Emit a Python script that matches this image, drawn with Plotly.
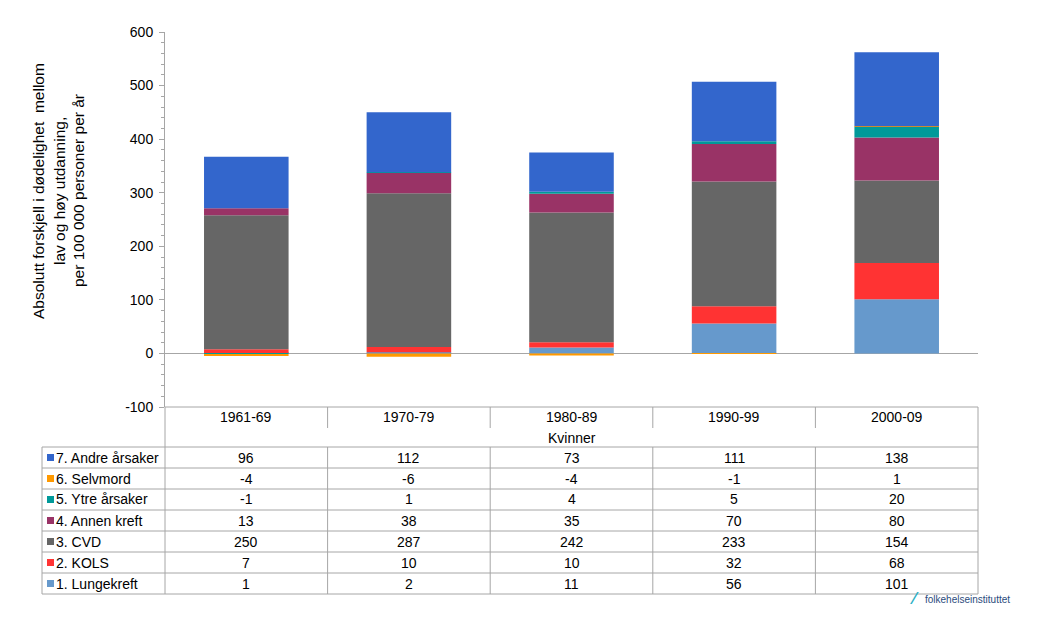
import plotly.graph_objects as go

# ---------------- data ----------------
periods = ["1961-69", "1970-79", "1980-89", "1990-99", "2000-09"]
group_label = "Kvinner"
lungekreft = [1, 2, 11, 56, 101]
kols = [7, 10, 10, 32, 68]
cvd = [250, 287, 242, 233, 154]
annen_kreft = [13, 38, 35, 70, 80]
ytre_arsaker = [-1, 1, 4, 5, 20]
selvmord = [-4, -6, -4, -1, 1]
andre_arsaker = [96, 112, 73, 111, 138]

series_names = ["1. Lungekreft", "2. KOLS", "3. CVD", "4. Annen kreft",
                "5. Ytre årsaker", "6. Selvmord", "7. Andre årsaker"]
series_values = [lungekreft, kols, cvd, annen_kreft, ytre_arsaker, selvmord, andre_arsaker]
series_colors = ["#6699CC", "#FF3333", "#666666", "#993366", "#009999", "#FF9900", "#3366CC"]

y_ticks = [-100, 0, 100, 200, 300, 400, 500, 600]
y_tick_labels = [str(v) for v in y_ticks]

y_title_lines = ["Absolutt forskjell i dødelighet  mellom", "lav og høy utdanning,",
                 "per 100 000 personer per år"]

# ---------------- layout geometry (pixels, absolute in the window) ----------------
W, H = 1044, 628
OFF = 8  # page body margin
L, R, T, B = 165, 978, 32, 407
pw, ph = R - L, B - T


def xp(px):
    return (px - L) / pw


def yp(py):
    return (B - py) / ph


FONT = "Arial, Liberation Sans, sans-serif"
FS = 14

fig = go.Figure()
for name, vals, col in zip(series_names, series_values, series_colors):
    fig.add_trace(go.Bar(x=periods, y=vals, name=name, marker_color=col,
                         marker_line_width=0, width=0.52))

shapes = []
annotations = []
line_col = "#A6A6A6"


def hline(y_px, x0_px, x1_px):
    shapes.append(dict(type="line", xref="paper", yref="paper", x0=xp(x0_px), x1=xp(x1_px),
                       y0=yp(y_px), y1=yp(y_px), line=dict(color=line_col, width=1)))


def vline(x, y0_px, y1_px):
    shapes.append(dict(type="line", xref="paper", yref="paper", x0=x, x1=x,
                       y0=yp(y0_px), y1=yp(y1_px), line=dict(color=line_col, width=1)))


row_top = 447
row_h = 21
n_rows = len(series_names)
table_bottom = row_top + row_h * n_rows

hline(B, L, R)
for i in range(n_rows + 1):
    hline(row_top + i * row_h, 42, R)
vline(xp(42), row_top, table_bottom)
vline(0, B, table_bottom)
vline(1, B, table_bottom)
ncat = len(periods)
for k in range(1, ncat):
    vline(k / ncat, B, 428)
    vline(k / ncat, row_top, table_bottom)

# header labels
for p in periods:
    annotations.append(dict(x=p, xref="x", y=yp(417), yref="paper", text=p, showarrow=False,
                            font=dict(size=FS, color="#000000", family=FONT), yanchor="middle"))
annotations.append(dict(x=0.5, xref="paper", y=yp(438), yref="paper", text=group_label,
                        showarrow=False, font=dict(size=FS, color="#000000", family=FONT),
                        yanchor="middle"))

# table rows: top row is last series
for r, idx in enumerate(range(n_rows - 1, -1, -1)):
    yc = yp(row_top + r * row_h + row_h / 2)
    shapes.append(dict(type="rect", xref="paper", yref="paper",
                       x0=xp(47), x1=xp(54), y0=yc - 3.5 / ph, y1=yc + 3.5 / ph,
                       fillcolor=series_colors[idx], line=dict(width=0)))
    annotations.append(dict(x=xp(54), xref="paper", y=yc, yref="paper", text=series_names[idx],
                            showarrow=False, xanchor="left", yanchor="middle",
                            font=dict(size=FS, color="#000000", family=FONT)))
    for p, v in zip(periods, series_values[idx]):
        annotations.append(dict(x=p, xref="x", y=yc, yref="paper", text=str(v), showarrow=False,
                                yanchor="middle", font=dict(size=FS, color="#000000", family=FONT)))

# y-axis title, one annotation per line
for line_text, x_px in zip(y_title_lines, [38, 59, 78]):
    annotations.append(dict(x=xp(x_px), xref="paper", y=yp(191), yref="paper", text=line_text,
                            showarrow=False, textangle=-90, xanchor="center", yanchor="middle",
                            font=dict(size=15.5, color="#000000", family=FONT)))

# logo text
annotations.append(dict(x=xp(923), xref="paper", y=yp(599), yref="paper",
                        text="folkehelseinstituttet", showarrow=False, xanchor="left",
                        yanchor="middle", font=dict(size=10, color="#2A4B7C", family=FONT)))
annotations.append(dict(x=xp(914), xref="paper", y=yp(598), yref="paper",
                        text="<b>⁄</b>", showarrow=False, xanchor="center",
                        yanchor="middle", font=dict(size=16, color="#2BAFC4", family=FONT)))

fig.update_layout(
    width=W - OFF, height=H - OFF,
    margin=dict(l=L - OFF, r=W - R, t=T - OFF, b=H - B, pad=0),
    paper_bgcolor="white", plot_bgcolor="white",
    barmode="relative",
    showlegend=False,
    font=dict(family=FONT, size=FS, color="#000000"),
    xaxis=dict(type="category", categoryorder="array", categoryarray=periods,
               range=[-0.5, len(periods) - 0.5],
               showticklabels=False, showline=False, showgrid=False, zeroline=False,
               ticks=""),
    yaxis=dict(range=[-100, 600], tickmode="array", tickvals=y_ticks, ticktext=y_tick_labels,
               showgrid=False, zeroline=True, zerolinecolor="#A6A6A6", zerolinewidth=1,
               showline=True, linecolor="#A6A6A6", linewidth=1,
               ticks="outside", ticklen=5, tickcolor="#A6A6A6",
               minor=dict(dtick=20, tick0=0, ticks="outside", ticklen=3, tickcolor="#A6A6A6"),
               tickfont=dict(size=FS, color="#000000", family=FONT), ticklabelstandoff=3),
    shapes=shapes,
    annotations=annotations,
)

fig.write_html("out.html")
